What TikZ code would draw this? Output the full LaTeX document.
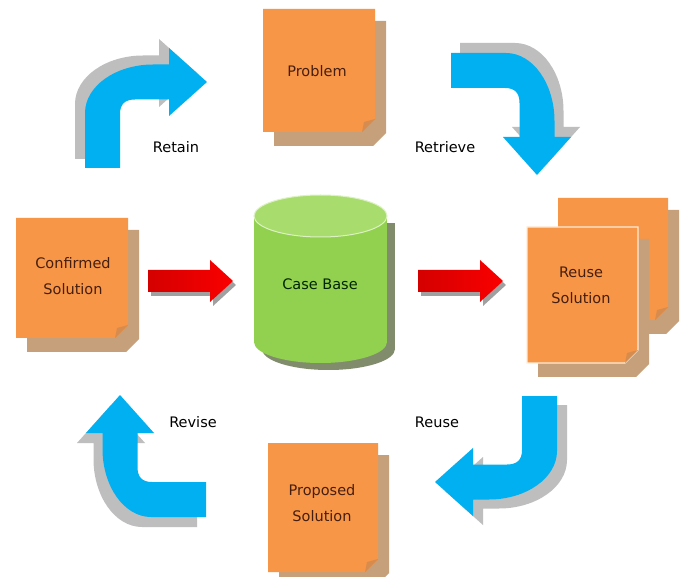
\documentclass[tikz,border=0pt]{standalone}
\usepackage{fontspec}
\setmainfont{DejaVu Sans}
\definecolor{noteorange}{RGB}{247,150,70}
\definecolor{noteshadow}{RGB}{198,160,122}
\definecolor{notefold}{RGB}{214,140,78}
\definecolor{notetext}{RGB}{70,30,15}
\definecolor{cycblue}{RGB}{0,176,240}
\definecolor{cycshadow}{RGB}{190,190,190}
\definecolor{cylgreen}{RGB}{146,208,80}
\definecolor{cyltop}{RGB}{168,220,108}
\definecolor{cylrim}{RGB}{220,242,195}
\definecolor{cylshadow}{RGB}{128,140,108}
\definecolor{arrred}{RGB}{250,0,0}
\definecolor{redshadow}{RGB}{160,160,160}
\tikzset{
  notelabel/.style={font=\fontsize{14.5}{26}\selectfont, text=notetext, align=center},
  steplabel/.style={font=\fontsize{14.5}{18}\selectfont, text=black},
}
% sticky note: #1 L, #2 T, #3 R, #4 B, #5 extra options for the note face
\newcommand\stickynote[5]{%
  \fill[noteshadow] (#1+11,#2+12) -- (#3+11,#2+12) -- (#3+11,#4+1) -- (#3-2,#4+14) -- (#1+11,#4+14) -- cycle;
  \fill[noteorange,#5] (#1,#2) -- (#3,#2) -- (#3,#4-13) -- (#3-13,#4) -- (#1,#4) -- cycle;
  \fill[notefold] (#3,#4-13) -- (#3-13,#4) -- (#3-11,#4-10) -- cycle;
}
\newcommand\bendarrow{%
  (0,0) -- (-38,-34) -- (-38,-17.5) -- (-54,-17.5)
  .. controls (-91,-17.5) and (-122,4) .. (-122,31)
  -- (-122,86) -- (-87,86) -- (-87,32)
  .. controls (-87,22) and (-82,17.5) .. (-72,17.5)
  -- (-38,17.5) -- (-38,34) -- cycle}
\newcommand\cyclearrow[2]{%
  \begin{scope}[shift={#1},rotate=#2]
    \fill[cycshadow,shift={(-10,-9)}] \bendarrow;
    \fill[cycblue] \bendarrow;
  \end{scope}}
\newcommand\redarrow[1]{%
  \begin{scope}[shift={#1}]
    \fill[redshadow,shift={(3,4)}] (0,10) -- (62,10) -- (62,0) -- (85,21) -- (62,42) -- (62,32) -- (0,32) -- cycle;
    \shade[left color=arrred!85!black, right color=arrred] (0,10) -- (62,10) -- (62,0) -- (85,21) -- (62,42) -- (62,32) -- (0,32) -- cycle;
  \end{scope}}
\begin{document}
\begin{tikzpicture}[x=1pt,y=-1pt]
  \useasboundingbox (0,0) rectangle (683,577);
  \fill[white] (0,0) rectangle (683,577);

  % cycle arrows
  \cyclearrow{(207,82)}{0}
  \cyclearrow{(537,175)}{-90}
  \cyclearrow{(435,482)}{180}
  \cyclearrow{(120,395)}{90}

  % notes
  \stickynote{263}{9}{375}{132}{}
  \stickynote{16}{218}{128}{338}{}
  \stickynote{268}{443}{378}{572}{}
  \stickynote{558}{198}{668}{320}{}
  \stickynote{527}{227}{638}{363}{draw=white!85!orange, line width=1.2pt}

  % case base cylinder
  \begin{scope}[shift={(8,7)}]
    \fill[cylshadow] (254,216) rectangle (387,342);
    \fill[cylshadow] (320.5,342) ellipse [x radius=66.5, y radius=21];
  \end{scope}
  \fill[cylgreen] (254,216) rectangle (387,342);
  \fill[cylgreen] (320.5,342) ellipse [x radius=66.5, y radius=21];
  \fill[cyltop, draw=cylrim, line width=1pt] (320.5,216) ellipse [x radius=66.5, y radius=21];

  % red arrows
  \redarrow{(148,260)}
  \redarrow{(418,260)}

  % texts
  \node[notelabel] (problem) at (317,71) {Problem};
  \node[notelabel] (confirmed) at (73,276) {Confirmed\\Solution};
  \node[notelabel] (reusesol) at (581,285) {Reuse\\Solution};
  \node[notelabel] (proposed) at (322,503) {Proposed\\Solution};
  \node[notelabel, text=black!85!green] (casebase) at (320,284) {Case Base};

  \node[steplabel] (retain) at (176,147) {Retain};
  \node[steplabel] (retrieve) at (445,147) {Retrieve};
  \node[steplabel] (revise) at (193,422) {Revise};
  \node[steplabel] (reuse) at (437,422) {Reuse};
\end{tikzpicture}
\end{document}
